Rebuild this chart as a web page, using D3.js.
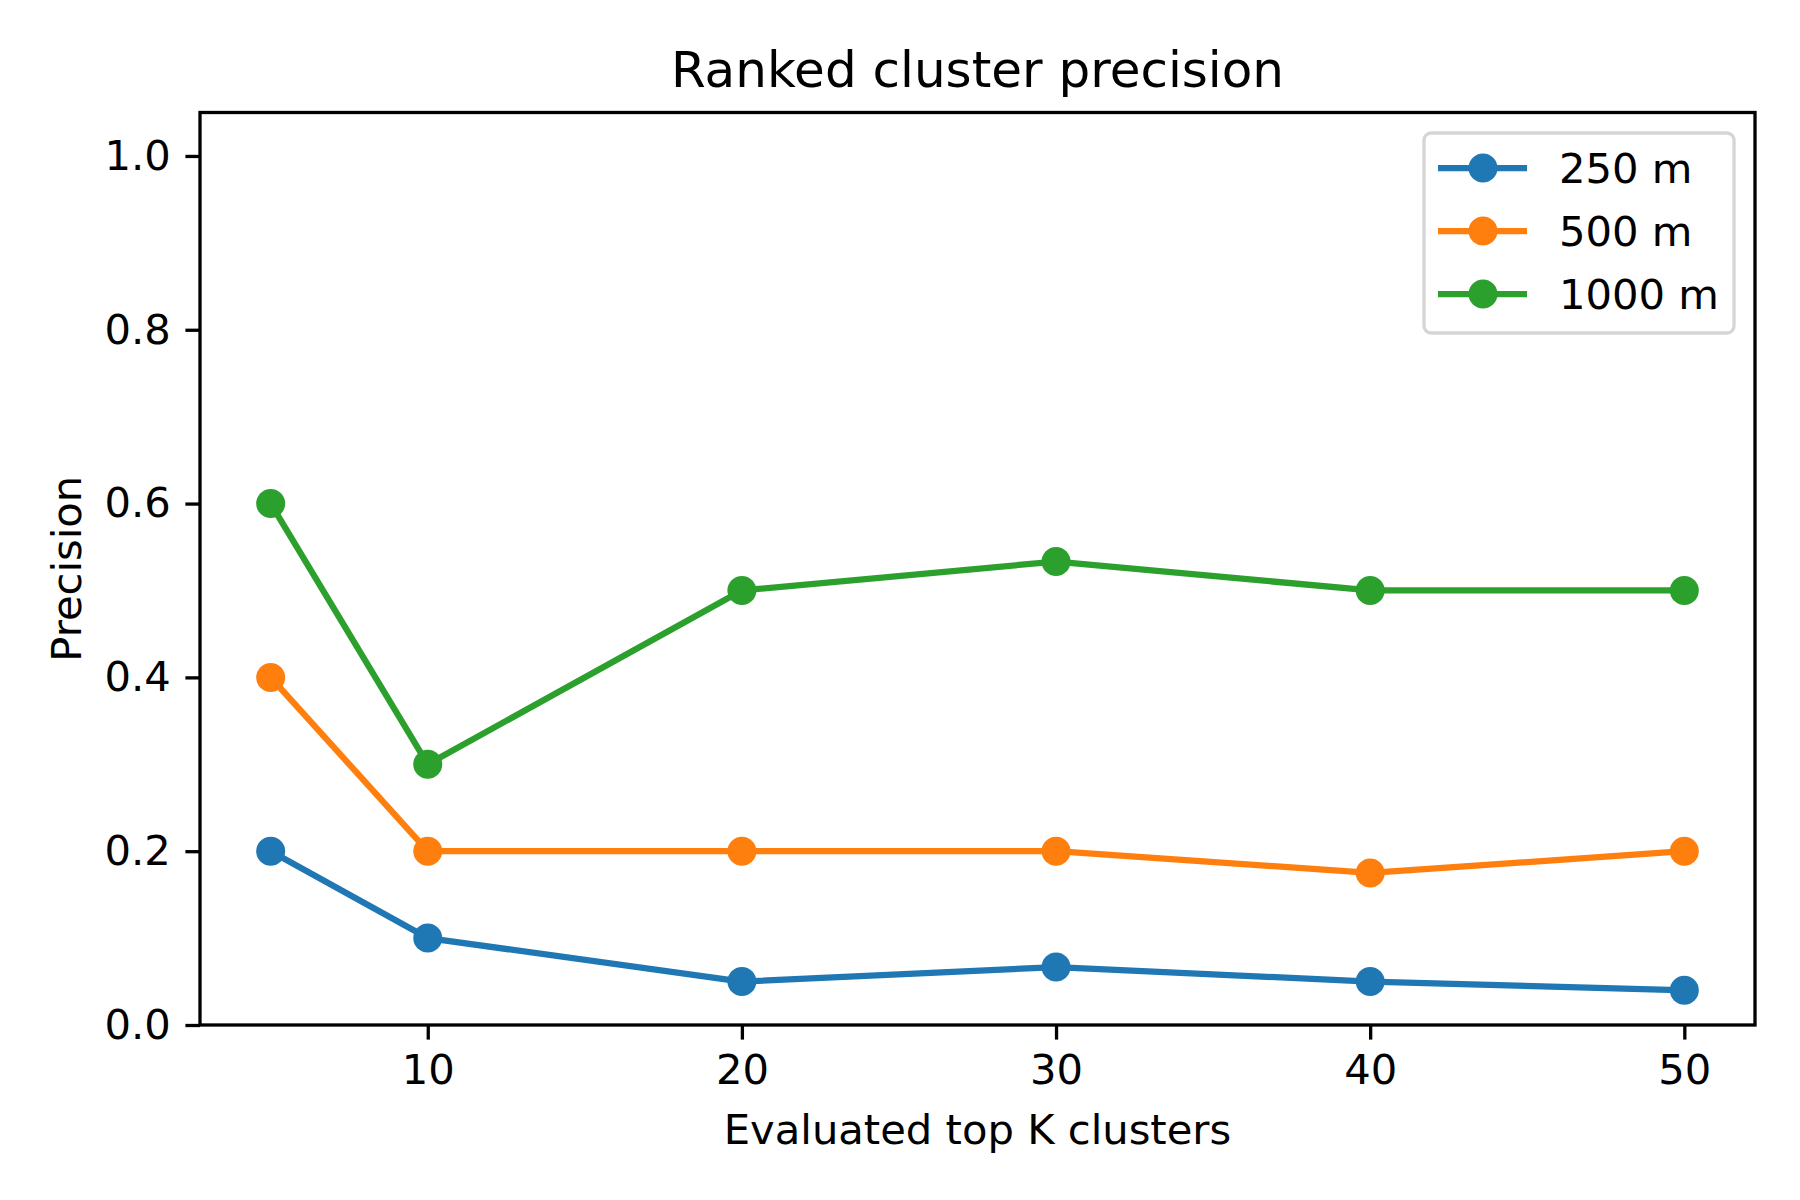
<!DOCTYPE html>
<html>
<head>
<meta charset="utf-8">
<script src="https://cdn.jsdelivr.net/npm/d3@7"></script>
<style>
  html, body { margin: 0; padding: 0; background: #fff; }
  svg { display: block; font-family: 'DejaVu Sans', sans-serif; }
</style>
</head>
<body>
<svg id="chart" width="1800" height="1200"></svg>
<script>
// data
const kValues = [5, 10, 20, 30, 40, 50];
const seriesNames = ['250 m', '500 m', '1000 m'];
const seriesColors = ['#1f77b4', '#ff7f0e', '#2ca02c'];
const precision250 = [0.2, 0.1, 0.05, 0.0667, 0.05, 0.04];
const precision500 = [0.4, 0.2, 0.2, 0.2, 0.175, 0.2];
const precision1000 = [0.6, 0.3, 0.5, 0.5333, 0.5, 0.5];
const xTicks = [10, 20, 30, 40, 50];
const yTicks = [0, 0.2, 0.4, 0.6, 0.8, 1.0];

const seriesValues = [precision250, precision500, precision1000];

const width = 1800, height = 1200;
const margin = { left: 200, right: 1755, top: 112.5, bottom: 1025 };
const fontSize = 41.7;
const tickLen = 14.6;
const markerR = 14.5;

const svg = d3.select('#chart');

const x = d3.scaleLinear().domain([2.75, 52.25]).range([margin.left, margin.right]);
const y = d3.scaleLinear().domain([0, 1.05]).range([margin.bottom, margin.top]);

// x axis
const xAxis = svg.append('g')
  .attr('transform', `translate(0,${margin.bottom})`)
  .call(d3.axisBottom(x).tickValues(xTicks).tickSize(tickLen).tickPadding(14.6).tickFormat(d3.format('d')));
xAxis.select('.domain').remove();
xAxis.selectAll('line').attr('stroke', '#000').attr('stroke-width', 3.3);
xAxis.selectAll('text').attr('fill', '#000').attr('font-size', fontSize).attr('font-family', 'DejaVu Sans');

// y axis
const yAxis = svg.append('g')
  .attr('transform', `translate(${margin.left},0)`)
  .call(d3.axisLeft(y).tickValues(yTicks).tickSize(tickLen).tickPadding(14.6).tickFormat(d3.format('.1f')));
yAxis.select('.domain').remove();
yAxis.selectAll('line').attr('stroke', '#000').attr('stroke-width', 3.3);
yAxis.selectAll('text').attr('fill', '#000').attr('font-size', fontSize).attr('font-family', 'DejaVu Sans');

// lines + markers
const line = d3.line()
  .x((d, i) => x(kValues[i]))
  .y(d => y(d));

seriesValues.forEach((vals, si) => {
  svg.append('path')
    .datum(vals)
    .attr('fill', 'none')
    .attr('stroke', seriesColors[si])
    .attr('stroke-width', 6.25)
    .attr('stroke-linejoin', 'round')
    .attr('stroke-linecap', 'square')
    .attr('d', line);

  svg.append('g').selectAll('circle')
    .data(vals)
    .join('circle')
    .attr('cx', (d, i) => x(kValues[i]))
    .attr('cy', d => y(d))
    .attr('r', markerR)
    .attr('fill', seriesColors[si]);
});

// frame
svg.append('rect')
  .attr('x', margin.left)
  .attr('y', margin.top)
  .attr('width', margin.right - margin.left)
  .attr('height', margin.bottom - margin.top)
  .attr('fill', 'none')
  .attr('stroke', '#000')
  .attr('stroke-width', 3.3);

// title and axis labels
svg.append('text')
  .attr('x', (margin.left + margin.right) / 2)
  .attr('y', 87)
  .attr('text-anchor', 'middle')
  .attr('font-size', 50)
  .text('Ranked cluster precision');

svg.append('text')
  .attr('x', (margin.left + margin.right) / 2)
  .attr('y', 1144)
  .attr('text-anchor', 'middle')
  .attr('font-size', fontSize)
  .text('Evaluated top K clusters');

svg.append('text')
  .attr('transform', `translate(81,${(margin.top + margin.bottom) / 2}) rotate(-90)`)
  .attr('text-anchor', 'middle')
  .attr('font-size', fontSize)
  .text('Precision');

// legend
const legend = svg.append('g');
legend.append('rect')
  .attr('x', 1424)
  .attr('y', 133)
  .attr('width', 310)
  .attr('height', 200)
  .attr('rx', 7)
  .attr('fill', 'rgba(255,255,255,0.8)')
  .attr('stroke', '#d5d5d5')
  .attr('stroke-width', 3.3);

const rowY = d3.scalePoint().domain(seriesNames).range([168, 294]);

seriesNames.forEach((name, si) => {
  const cy = rowY(name);
  legend.append('line')
    .attr('x1', 1438).attr('x2', 1527)
    .attr('y1', cy).attr('y2', cy)
    .attr('stroke', seriesColors[si])
    .attr('stroke-width', 6.25);
  legend.append('circle')
    .attr('cx', 1483).attr('cy', cy).attr('r', markerR)
    .attr('fill', seriesColors[si]);
  legend.append('text')
    .attr('x', 1559)
    .attr('y', cy + 15)
    .attr('font-size', fontSize)
    .text(name);
});
</script>
</body>
</html>
